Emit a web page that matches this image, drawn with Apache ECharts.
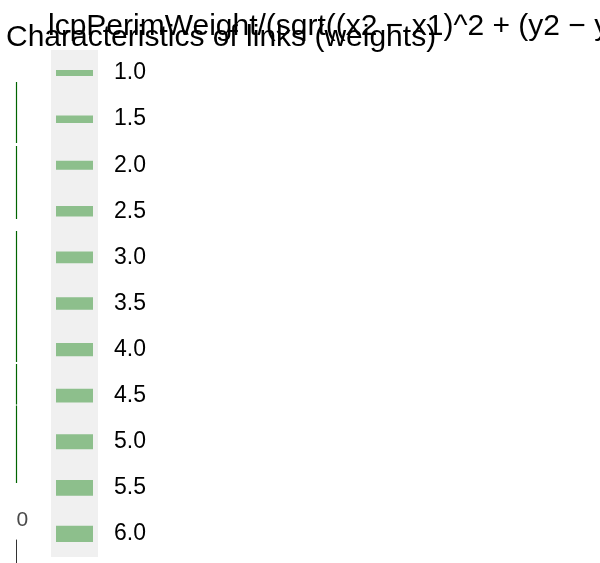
<!DOCTYPE html>
<html>
<head>
<meta charset="utf-8">
<script src="https://cdn.jsdelivr.net/npm/echarts@6/dist/echarts.min.js"></script>
<style>html,body{margin:0;padding:0;background:#fff}#c{width:600px;height:563px}</style>
</head>
<body>
<div id="c"></div>
<script>
// ---- data ----
const chartTitle = 'Characteristics of links (weights)';
const chartSubtitle = 'lcpPerimWeight/(sqrt((x2 \u2212 x1)^2 + (y2 \u2212 y1)^2))';
// links visible in the (clipped) plot area: x, y-from, y-to (plot units)
const linkX     = [0, 0, 0, 0, 0];
const linkFromY = [85.44, 74.07, 58.97, 35.35, 27.97];
const linkToY   = [74.60, 61.10, 35.70, 28.15, 14.21];
// bottom axis tick labels
const xTickLabels = ['0'];
// weight legend categories and encoded line widths
const weightLabels = ['1.0', '1.5', '2.0', '2.5', '3.0', '3.5', '4.0', '4.5', '5.0', '5.5', '6.0'];
const weightLineWidths = [6, 7.5, 9, 10.5, 11.7, 12.4, 13.3, 13.8, 15, 15.7, 16.3];

// ---- chart ----
const FONT = 'Liberation Sans, Arial, Helvetica, sans-serif';
const chart = echarts.init(document.getElementById('c'), null, {renderer: 'canvas'});

const linkData = linkX.map((x, i) => ({coords: [[x, linkFromY[i]], [x, linkToY[i]]]}));
const legendData = weightLabels.map((w) => [0.5, w]);

chart.setOption({
  animation: false,
  backgroundColor: '#ffffff',
  title: [
    {
      text: chartTitle, left: 6, top: 23, padding: 0,
      textStyle: {fontSize: 30, fontWeight: 'normal', color: '#000', fontFamily: FONT}
    },
    {
      text: chartSubtitle, left: 48, top: 12, padding: 0,
      textStyle: {fontSize: 30, fontWeight: 'normal', color: '#000', fontFamily: FONT}
    }
  ],
  grid: [
    {left: 16.5, top: 0, width: 400, height: 563, show: false},
    {left: 16.5, top: 540, width: 400, height: 80, show: false},
    {left: 51, top: 50, width: 47, height: 507, show: true, backgroundColor: '#f0f0f0', borderWidth: 0}
  ],
  xAxis: [
    {gridIndex: 0, type: 'value', min: 0, max: 100, show: false},
    {
      gridIndex: 1, type: 'value', min: 0, max: 100, interval: 100, position: 'top',
      axisLine: {show: false}, axisTick: {show: false}, splitLine: {show: false},
      axisLabel: {
        show: true, margin: 9, align: 'left', fontSize: 21, color: '#4a4a4a', fontFamily: FONT,
        formatter: (v) => (v === 0 ? xTickLabels[0] : '')
      }
    },
    {gridIndex: 2, type: 'value', min: 0, max: 1, show: false}
  ],
  yAxis: [
    {gridIndex: 0, type: 'value', min: 0, max: 100, show: false},
    {
      gridIndex: 1, type: 'value', min: 0, max: 10, show: true,
      axisLine: {show: true, lineStyle: {color: '#333', width: 1}},
      axisTick: {show: false}, axisLabel: {show: false}, splitLine: {show: false}
    },
    {
      gridIndex: 2, type: 'category', data: weightLabels, inverse: true, position: 'right',
      axisLine: {show: false}, axisTick: {show: false}, splitLine: {show: false},
      axisLabel: {margin: 16, fontSize: 23, color: '#000', fontFamily: FONT}
    }
  ],
  series: [
    {
      type: 'lines', coordinateSystem: 'cartesian2d', xAxisIndex: 0, yAxisIndex: 0,
      data: linkData,
      lineStyle: {color: '#006400', width: 1.2, opacity: 1}, silent: true
    },
    {
      type: 'scatter', xAxisIndex: 2, yAxisIndex: 2,
      data: legendData, symbol: 'rect',
      symbolSize: (val, params) => [37, weightLineWidths[params.dataIndex]],
      itemStyle: {color: '#8dbf8c', opacity: 1}, silent: true
    }
  ]
});
</script>
</body>
</html>
